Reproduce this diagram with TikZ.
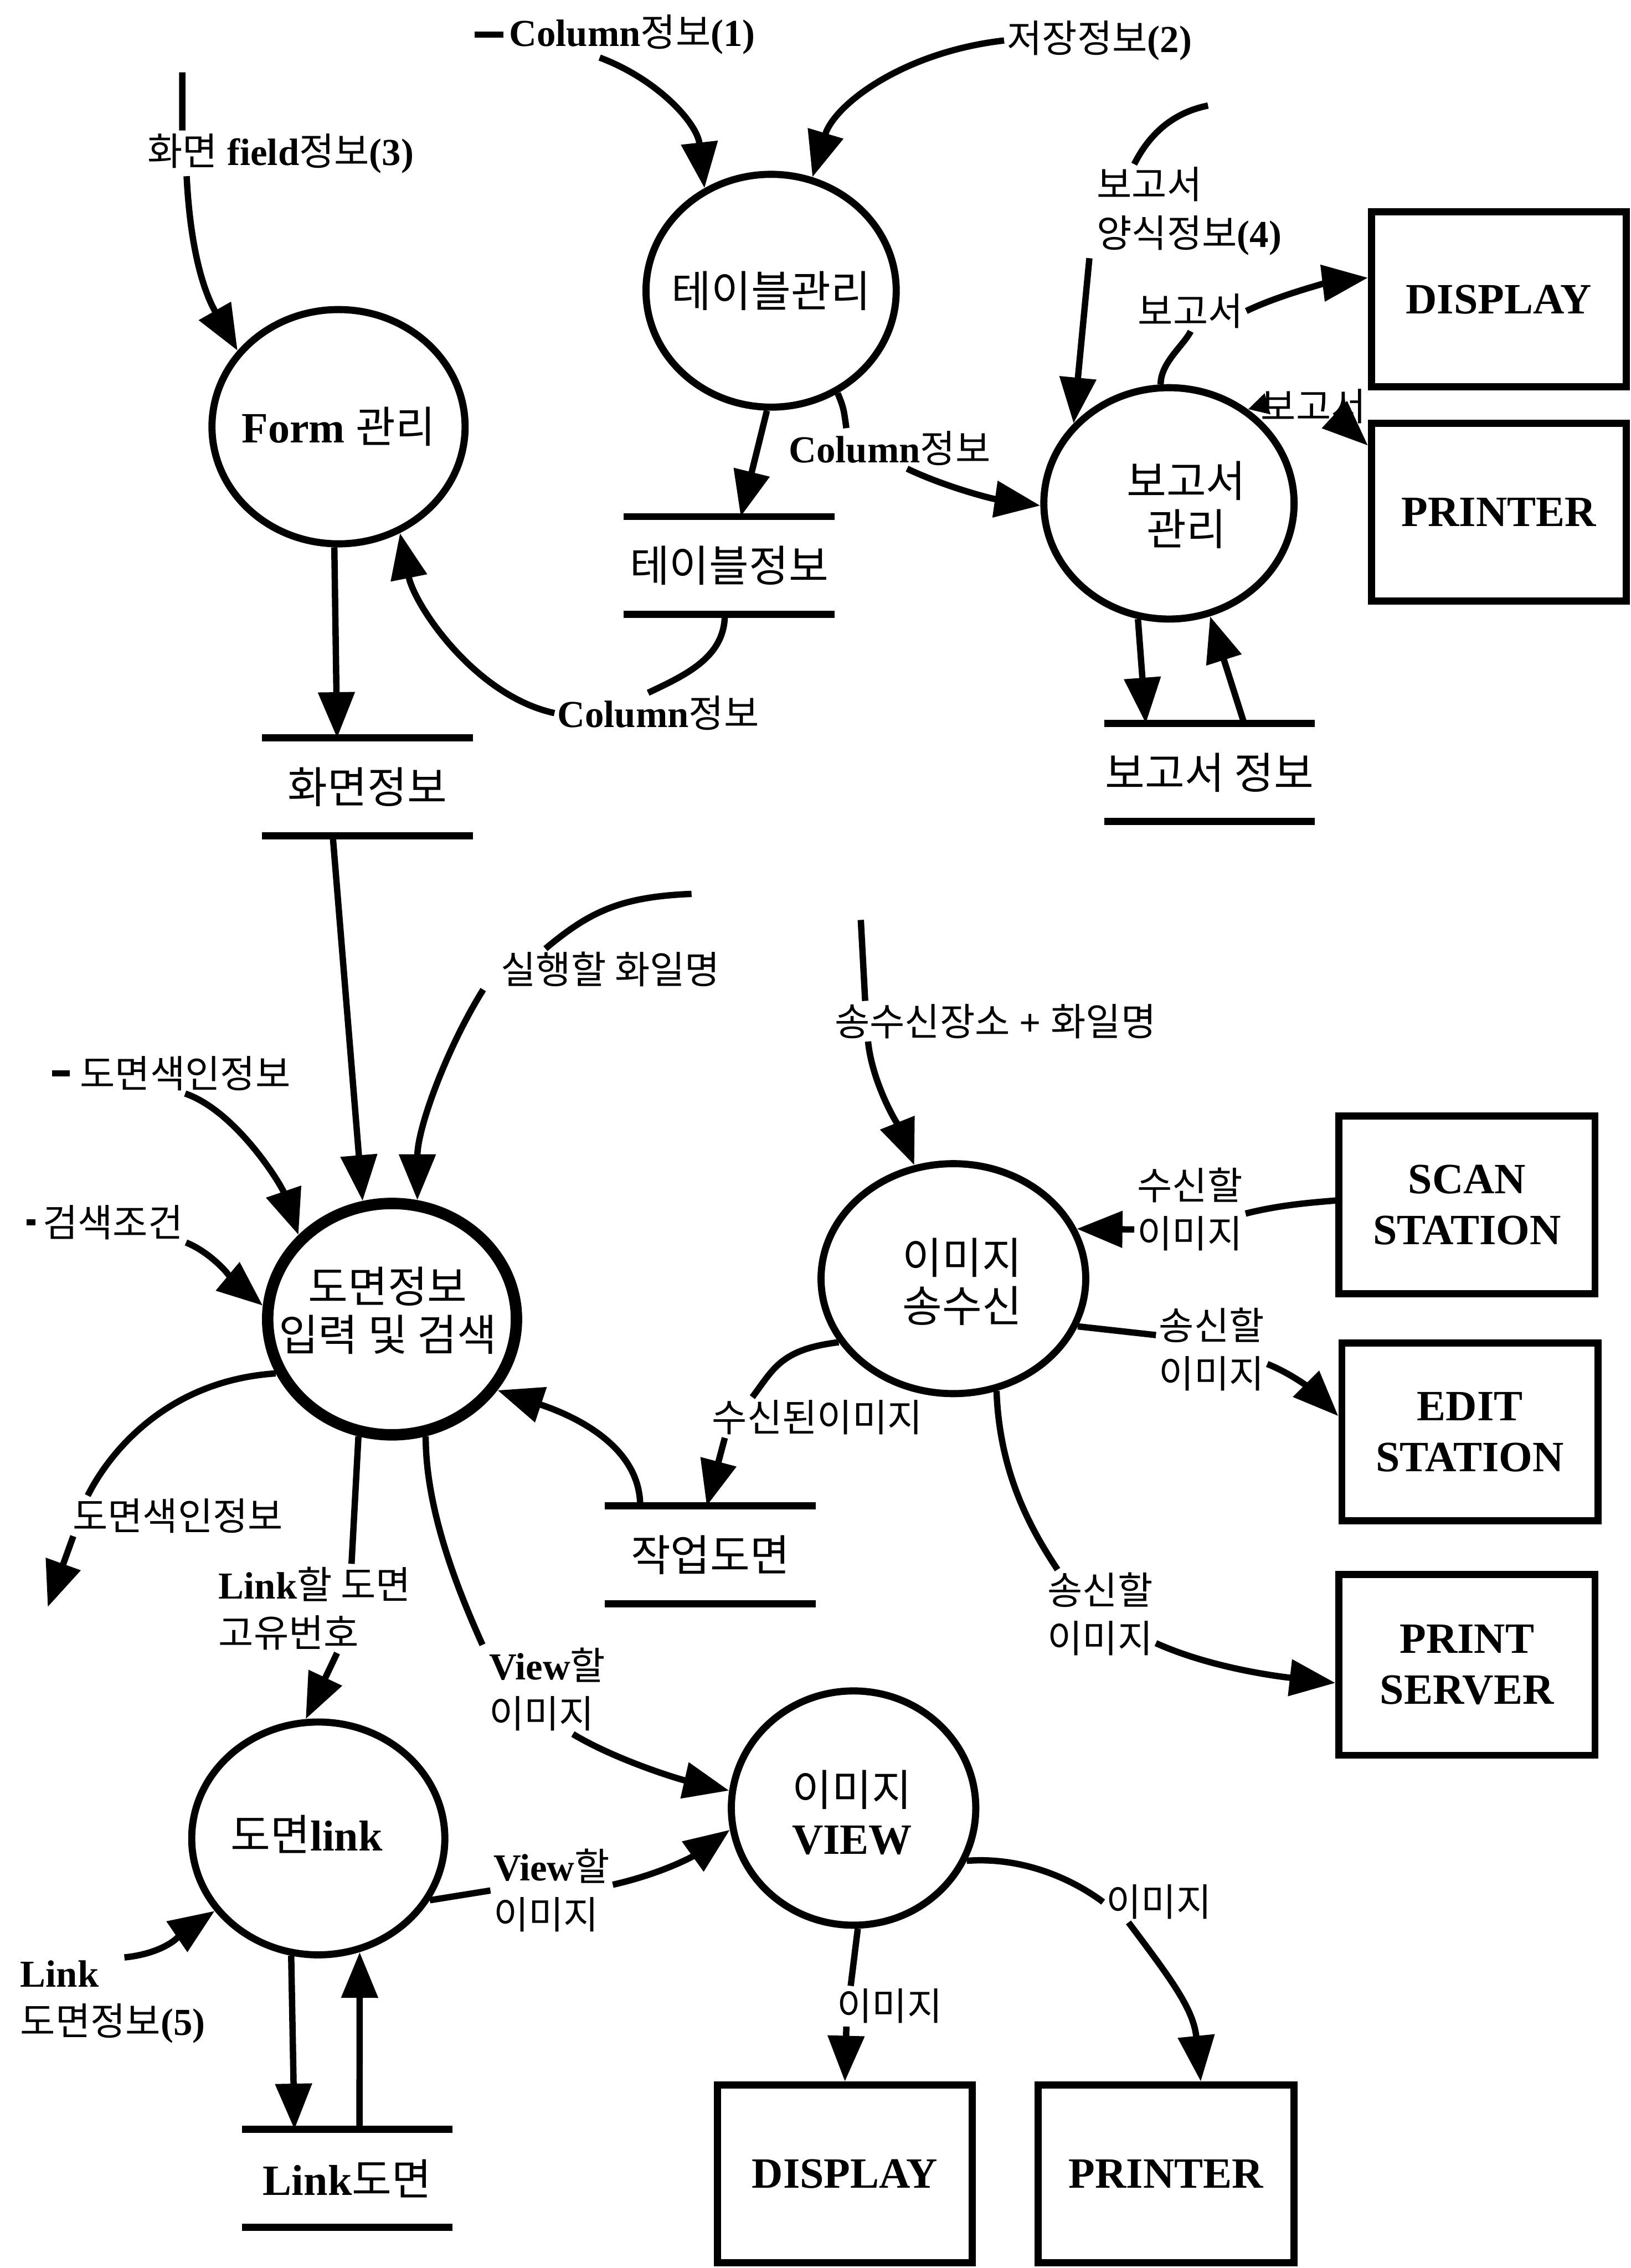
\documentclass[tikz,border=0pt]{standalone}
\usepackage{fontspec}
\setmainfont{Liberation Serif}
\newfontfamily\krfont{Noto Sans CJK KR}
\newcommand{\kor}[1]{{\krfont\mdseries #1}}
\usetikzlibrary{arrows.meta,shapes.geometric}

\tikzset{
  proc/.style={ellipse, draw, line width=2.8pt, minimum width=3.5cm, minimum height=3.24cm, inner sep=0pt},
  ptext/.style={font=\fontsize{17}{19}\selectfont\bfseries, align=center, inner sep=0pt},
  ext/.style={rectangle, draw, line width=2.8pt, minimum width=3.54cm, minimum height=2.46cm, font=\fontsize{17}{20}\selectfont\bfseries, align=center},
  store/.style={minimum width=2.9cm, minimum height=1.34cm, inner sep=0pt, font=\fontsize{17}{19}\selectfont\bfseries},
  storeline/.style={line width=2.8pt},
  flow/.style={line width=2.5pt, -{Triangle[length=18pt,width=14pt]}},
  smallflow/.style={line width=2.5pt, -{Triangle[length=8pt,width=8pt]}},
  flowline/.style={line width=2.5pt},
  lbl/.style={font=\fontsize{15}{19}\selectfont\bfseries, inner sep=1pt, align=left}
}

\begin{document}
\begin{tikzpicture}[x=0.02cm, y=-0.02cm]
	\useasboundingbox (0,0) rectangle (1127,1568);

	% processes
	\node[proc] (fm) at (234,295) {};
	\node[ptext] (fm-t) at (fm) {Form \kor{관리}};
	\node[proc, minimum width=3.46cm, minimum height=3.22cm] (tbl) at (533,201) {};
	\node[ptext] (tbl-t) at (tbl) {\kor{테이블관리}};
	\node[proc, minimum width=3.46cm, minimum height=3.2cm] (rpt) at (808,348) {};
	\node[ptext] (rpt-t) at (820,349) {\kor{보고서}\\\kor{관리}};
	\node[proc, line width=4.5pt, minimum width=3.44cm, minimum height=3.2cm] (dwg) at (271,912) {};
	\node[ptext] (dwg-t) at (268,906) {\kor{도면정보}\\\kor{입력 및 검색}};
	\node[proc, minimum width=3.66cm, minimum height=3.18cm] (xfer) at (659,884) {};
	\node[ptext] (xfer-t) at (665,886) {\kor{이미지}\\\kor{송수신}};
	\node[proc, minimum width=3.5cm, minimum height=3.22cm] (lnk) at (220,1271) {};
	\node[ptext] (lnk-t) at (212,1268) {\kor{도면}link};
	\node[proc, minimum width=3.38cm, minimum height=3.24cm] (view) at (590,1250) {};
	\node[ptext] (view-t) at (589,1253) {\kor{이미지}\\VIEW};

	% stores
	\node[store] (tis) at (504,391) {\kor{테이블정보}};
	\node[store] (scr) at (254,544) {\kor{화면정보}};
	\node[store] (rps) at (836,534) {\kor{보고서 정보}};
	\node[store] (wkd) at (491,1075) {\kor{작업도면}};
	\node[store] (lkd) at (240,1506) {Link\kor{도면}};
	\foreach \s in {tis,scr,rps,wkd,lkd}
		\draw[storeline] (\s.north west) -- (\s.north east) (\s.south west) -- (\s.south east);

	% terminals
	\node[ext, minimum width=3.52cm, minimum height=2.42cm] (dsp1) at (1036,207) {DISPLAY};
	\node[ext, minimum width=3.52cm] (prt1) at (1036,354) {PRINTER};
	\node[ext] (scan) at (1014,833) {SCAN\\STATION};
	\node[ext] (edit) at (1016,990) {EDIT\\STATION};
	\node[ext, minimum height=2.5cm] (psrv) at (1014,1151) {PRINT\\SERVER};
	\node[ext, minimum width=3.52cm] (dsp2) at (584,1503) {DISPLAY};
	\node[ext] (prt2) at (806,1503) {PRINTER};

	% flow labels
	\node[lbl] (fld) at (194,106) {\kor{화면} field\kor{정보}(3)};
	\node[lbl] (c1) at (437,24) {Column\kor{정보}(1)};
	\node[lbl] (sav) at (760,28) {\kor{저장정보}(2)};
	\node[lbl] (col2) at (455,493) {Column\kor{정보}};
	\node[lbl] (col3) at (615,310) {Column\kor{정보}};
	\node[lbl, anchor=west] (frm) at (756,146) {\kor{보고서}\\\kor{양식정보}(4)};
	\node[lbl] (rp1) at (823,215) {\kor{보고서}};
	\node[lbl] (rp2) at (908,281) {\kor{보고서}};
	\node[lbl] (run) at (422,670) {\kor{실행할 화일명}};
	\node[lbl] (idx1) at (128,742) {\kor{도면색인정보}};
	\node[lbl] (cond) at (78,845) {\kor{검색조건}};
	\node[lbl] (idx2) at (123,1048) {\kor{도면색인정보}};
	\node[lbl, anchor=west] (lid) at (149,1112) {Link\kor{할 도면}\\\kor{고유번호}};
	\node[lbl, anchor=west] (vw1) at (336,1168) {View\kor{할}\\\kor{이미지}};
	\node[lbl, anchor=west] (vw2) at (339,1307) {View\kor{할}\\\kor{이미지}};
	\node[lbl, anchor=west] (lnkin) at (12,1384) {Link\\\kor{도면정보}(5)};
	\node[lbl] (src) at (688,706) {\kor{송수신장소} + \kor{화일명}};
	\node[lbl, anchor=west] (rcv) at (784,836) {\kor{수신할}\\\kor{이미지}};
	\node[lbl, anchor=west] (snd1) at (799,933) {\kor{송신할}\\\kor{이미지}};
	\node[lbl] (rcvd) at (565,980) {\kor{수신된이미지}};
	\node[lbl, anchor=west] (snd2) at (722,1116) {\kor{송신할}\\\kor{이미지}};
	\node[lbl] (im1) at (615,1387) {\kor{이미지}};
	\node[lbl] (im2) at (801,1315) {\kor{이미지}};

	\coordinate (fldsrc) at (126,50);
	\coordinate (frmsrc) at (835,73);
	\coordinate (runsrc) at (478,618);
	\coordinate (srcsrc) at (595,636);
	\coordinate (idxout) at (33,1111);

	% upper half
	\draw[flowline] (fldsrc) -- ([xshift=-1.36cm]fld.north);
	\draw[flow] ([xshift=-1.3cm]fld.south) .. controls +(3,60) and +(-20,-35) .. (fm.143);
	\draw[flowline] ([xshift=-0.04cm]c1.west) -- ++(-20,0);
	\draw[flow] ([xshift=-0.45cm]c1.south) .. controls +(40,15) and +(-5,-45) .. (tbl.123);
	\draw[flow] (sav.west) .. controls +(-70,8) and +(15,-50) .. (tbl.70);
	\draw[flow] (tbl.268) -- ([xshift=0.16cm]tis.north);
	\draw[flowline] ([xshift=-0.06cm]tis.south) .. controls +(0,30) and +(25,-12) .. ([xshift=-0.14cm]col2.north);
	\draw[flow] (col2.west) .. controls +(-55,-12) and +(10,50) .. (fm.-60);
	\draw[flow] (fm.268) -- ([xshift=-0.42cm]scr.north);
	\draw[flowline] (tbl.-57) .. controls +(4,10) .. ([xshift=-0.6cm]col3.north);
	\draw[flow] ([xshift=0.24cm]col3.south) .. controls +(25,12) and +(-35,-5) .. (rpt.181);
	\draw[flowline] (frmsrc) .. controls +(-25,5) and +(10,-20) .. ([xshift=0.56cm]frm.north west);
	\draw[flow] ([xshift=-0.06cm]frm.south west) -- (rpt.140);
	\draw[flowline] (rpt.94) .. controls +(0,-15) and +(-5,10) .. (rp1.south);
	\draw[flow] (rp1.east) .. controls +(25,-12) and +(-25,3) .. ([yshift=0.3cm]dsp1.west);
	\draw[smallflow] (rp2.west) -- (rpt.50);
	\draw[flow] ([xshift=-0.3cm]rp2.south east) -- ([yshift=-0.36cm]prt1.north west);
	\draw[flow] (rpt.-105) -- ([xshift=-0.88cm]rps.north);
	\draw[flow] ([xshift=0.48cm]rps.north) -- (rpt.-70);

	% lower half
	\draw[flow] ([xshift=-0.48cm]scr.south) -- (dwg.104);
	\draw[flowline] (runsrc) .. controls +(-50,2) and +(30,-25) .. ([xshift=-0.9cm]run.north);
	\draw[flow] ([xshift=-1.76cm]run.south) .. controls +(-25,40) and +(0,-50) .. (dwg.78);
	\draw[flowline] ([xshift=-0.1cm]idx1.west) -- ++(-12,0);
	\draw[flow] (idx1.south) .. controls +(35,12) and +(-12,-35) .. (dwg.138);
	\draw[flowline] ([xshift=-0.06cm]cond.west) -- ++(-6,0);
	\draw[flow] (cond.south east) .. controls +(20,8) and +(-18,-15) .. (dwg.174);
	\draw[flow] ([xshift=-0.97cm]wkd.north) .. controls +(0,-45) and +(45,15) .. (dwg.-34);
	\draw[flowline] (dwg.205) .. controls +(-75,5) and +(15,-30) .. ([xshift=0.25cm]idx2.north west);
	\draw[flow] ([xshift=0.05cm]idx2.south west) -- (idxout);
	\draw[flowline] (dwg.-106) -- ([xshift=1.88cm]lid.north west);
	\draw[flow] ([xshift=1.68cm]lid.south west) -- (lnk.96);
	\draw[flowline] (dwg.-74) .. controls +(0,50) and +(-18,-40) .. ([xshift=-0.05cm]vw1.north west);
	\draw[flow] ([xshift=1.2cm]vw1.south west) .. controls +(30,18) and +(-35,-8) .. (view.172);
	\draw[flowline] (lnk.-29) -- (vw2.west);
	\draw[flow] ([yshift=0.08cm]vw2.east) .. controls +(35,-8) and +(-25,18) .. (view.190);
	\draw[flow] ([xshift=1.48cm]lnkin.north west) .. controls +(30,-3) and +(-22,15) .. (lnk.215);
	\draw[flow] (lnk.-103) -- ([xshift=-0.73cm]lkd.north);
	\draw[flow] ([xshift=0.17cm]lkd.north) -- (lnk.-70);
	\draw[flowline] (srcsrc) -- ([xshift=-1.8cm]src.north);
	\draw[flow] ([xshift=-1.76cm]src.south) .. controls +(3,30) and +(-10,-25) .. (xfer.109);
	\draw[flowline] ([yshift=0.06cm]scan.west) .. controls +(-25,2) and +(20,-5) .. ([yshift=-0.06cm]rcv.east);
	\draw[flow] ([yshift=-0.28cm]rcv.west) -- (xfer.22);
	\draw[flowline] (xfer.-21) -- ([yshift=0.2cm]snd1.west);
	\draw[flow] ([yshift=-0.2cm]snd1.east) .. controls +(20,8) and +(-15,-15) .. ([yshift=0.22cm]edit.west);
	\draw[flowline] (xfer.209) .. controls +(-40,5) and +(15,-20) .. ([xshift=-0.9cm]rcvd.north);
	\draw[flow] ([xshift=-1.28cm]rcvd.south) -- ([xshift=-0.05cm]wkd.north);
	\draw[flowline] (xfer.-69) .. controls +(2,55) and +(-20,-30) .. ([xshift=0.18cm]snd2.north west);
	\draw[flow] ([yshift=-0.4cm]snd2.east) .. controls +(40,18) and +(-35,-4) .. ([yshift=-0.25cm]psrv.west);
	\draw[flowline] (view.-88) -- ([xshift=0.23cm]im1.north west);
	\draw[flow] ([xshift=0.17cm]im1.south west) -- (dsp2.north);
	\draw[flowline] (view.-25) .. controls +(40,-3) and +(-20,-15) .. (im2.west);
	\draw[flow] ([xshift=0.35cm]im2.south west) .. controls +(30,40) and +(-5,-50) .. ([xshift=0.48cm]prt2.north);
\end{tikzpicture}
\end{document}
